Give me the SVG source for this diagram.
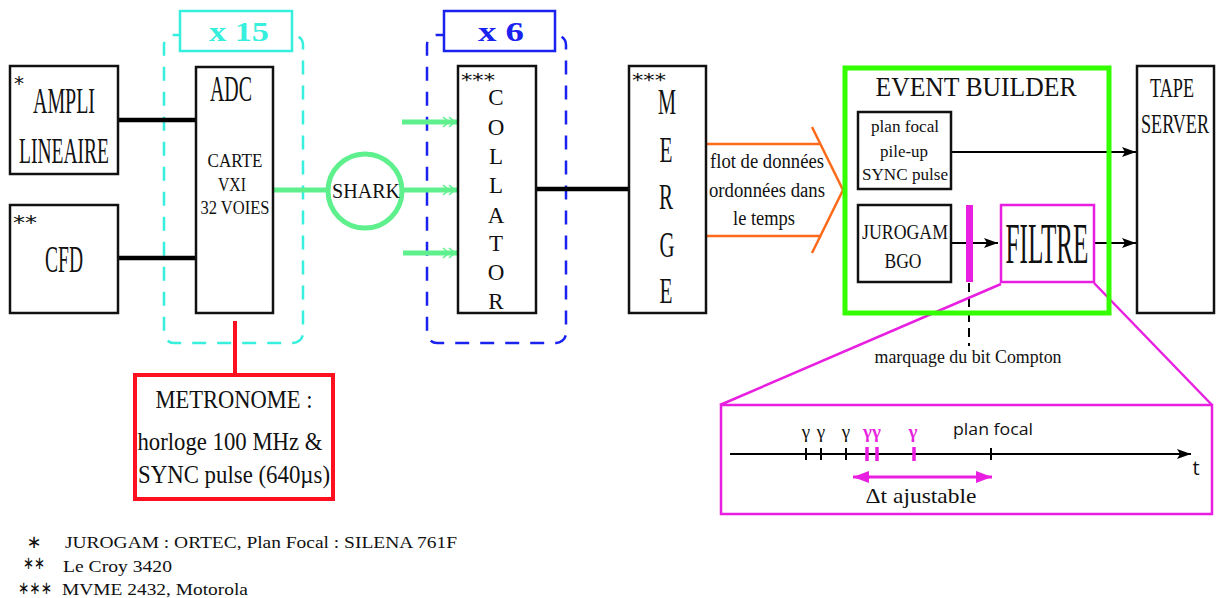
<svg xmlns="http://www.w3.org/2000/svg" width="1219" height="598" viewBox="0 0 1219 598">
  <style>
    .box { fill: #fff; stroke: #111; stroke-width: 2.5; }
    .t { font-family: "Liberation Serif", "DejaVu Serif", serif; fill: #111; }
    .s { font-family: "Open Sans", "Liberation Sans", sans-serif; fill: #111; }
    .ast { font-family: "DejaVu Sans", sans-serif; fill: #111; }
    .mid { text-anchor: middle; }
    .thick { stroke: #000; stroke-width: 4.5; fill: none; }
    .green { stroke: #5ff08e; stroke-width: 5; fill: none; }
    .mag { stroke: #e81ee0; fill: none; }
  </style>
  <defs>
    <marker id="dbl" viewBox="0 0 16 12" refX="16" refY="6" markerWidth="16" markerHeight="12" markerUnits="userSpaceOnUse" orient="auto">
      <path d="M2,1 L8,6 L2,11 M8,1 L14,6 L8,11" fill="none" stroke="#5ff08e" stroke-width="1.6"/>
    </marker>
    <marker id="blk" viewBox="0 0 14 10" refX="14" refY="5" markerWidth="14" markerHeight="10" markerUnits="userSpaceOnUse" orient="auto">
      <path d="M0,0 L14,5 L0,10 L3,5 Z" fill="#000"/>
    </marker>
    <marker id="magA" viewBox="0 0 16 12" refX="16" refY="6" markerWidth="16" markerHeight="12" markerUnits="userSpaceOnUse" orient="auto-start-reverse">
      <path d="M0,0 L16,6 L0,12 Z" fill="#e81ee0"/>
    </marker>
  </defs>

  <!-- replication frames -->
  <g id="frame-adc">
    <rect x="164" y="35" width="139" height="308" rx="10" fill="none" stroke="#36efdc" stroke-width="2.5" stroke-dasharray="14,11"/>
    <rect x="180" y="11" width="112" height="40" fill="#fff" stroke="#36efdc" stroke-width="2.5"/>
    <text x="239" y="41" class="mid" font-family="Liberation Serif, serif" font-weight="bold" font-size="28" fill="#36efdc" textLength="60" lengthAdjust="spacingAndGlyphs">x 15</text>
  </g>
  <g id="frame-collator">
    <rect x="427" y="35" width="139" height="308" rx="10" fill="none" stroke="#1a22f0" stroke-width="2.5" stroke-dasharray="14,11"/>
    <rect x="444" y="11" width="111" height="40" fill="#fff" stroke="#1a22f0" stroke-width="2.5"/>
    <text x="501" y="41" class="mid" font-family="Liberation Serif, serif" font-weight="bold" font-size="28" fill="#1a22f0" textLength="46" lengthAdjust="spacingAndGlyphs">x 6</text>
  </g>

  <!-- connectors -->
  <g id="connectors">
    <line x1="118" y1="120" x2="205" y2="120" class="thick"/>
    <line x1="118" y1="258" x2="205" y2="258" class="thick"/>
    <line x1="273" y1="190" x2="327" y2="190" class="green"/>
    <line x1="403" y1="190" x2="457" y2="190" class="green" marker-end="url(#dbl)"/>
    <line x1="402" y1="122" x2="457" y2="122" class="green" marker-end="url(#dbl)"/>
    <line x1="403" y1="253" x2="457" y2="253" class="green" marker-end="url(#dbl)"/>
    <line x1="536" y1="189" x2="629" y2="189" class="thick"/>
    <rect x="232.5" y="296" width="4" height="9" fill="#ff1020"/>
    <line x1="235" y1="321" x2="235" y2="374" stroke="#ff1020" stroke-width="4"/>
    <!-- ordered data stream -->
    <g stroke="#ff6a1a" stroke-width="2.5" fill="none">
      <line x1="706" y1="144" x2="820" y2="144"/>
      <line x1="706" y1="236" x2="820" y2="236"/>
      <polyline points="812,127 843,190 812,253"/>
    </g>
    <line x1="951" y1="152" x2="1136" y2="152" stroke="#000" stroke-width="2" marker-end="url(#blk)"/>
    <line x1="951" y1="243" x2="998" y2="243" stroke="#000" stroke-width="2" marker-end="url(#blk)"/>
    <line x1="1094" y1="243" x2="1136" y2="243" stroke="#000" stroke-width="2" marker-end="url(#blk)"/>
    <line x1="969" y1="283" x2="969" y2="346" stroke="#000" stroke-width="2" stroke-dasharray="9,6"/>
    <line x1="1001" y1="284" x2="720" y2="405" class="mag" stroke-width="2.5"/>
    <line x1="1094" y1="283" x2="1212" y2="405" class="mag" stroke-width="2.5"/>
  </g>

  <g id="ampli">
    <rect x="10" y="66" width="108" height="108" class="box"/>
    <text x="14" y="90" class="ast" font-size="20">*</text>
    <text x="64" y="113" class="t mid" font-size="36" textLength="62" lengthAdjust="spacingAndGlyphs">AMPLI</text>
    <text x="64" y="163" class="t mid" font-size="36" textLength="90" lengthAdjust="spacingAndGlyphs">LINEAIRE</text>
  </g>
  <g id="cfd">
    <rect x="10" y="205" width="108" height="108" class="box"/>
    <text x="13" y="229" class="ast" font-size="20" textLength="24" lengthAdjust="spacingAndGlyphs">**</text>
    <text x="64" y="272" class="t mid" font-size="38" textLength="38" lengthAdjust="spacingAndGlyphs">CFD</text>
  </g>
  <g id="adc">
    <rect x="196" y="67" width="77" height="246" class="box"/>
    <text x="231" y="101" class="t mid" font-size="36" textLength="42" lengthAdjust="spacingAndGlyphs">ADC</text>
    <text x="235" y="167" class="t mid" font-size="18" textLength="55" lengthAdjust="spacingAndGlyphs">CARTE</text>
    <text x="232" y="191" class="t mid" font-size="18" textLength="28" lengthAdjust="spacingAndGlyphs">VXI</text>
    <text x="235" y="214" class="t mid" font-size="18" textLength="69" lengthAdjust="spacingAndGlyphs">32 VOIES</text>
  </g>
  <g id="metronome">
    <rect x="135" y="375" width="198" height="124" fill="#fff" stroke="#ff1020" stroke-width="4"/>
    <text x="234" y="408" class="t mid" font-size="26" textLength="157" lengthAdjust="spacingAndGlyphs">METRONOME :</text>
    <text x="230" y="450" class="t mid" font-size="26" textLength="185" lengthAdjust="spacingAndGlyphs">horloge 100 MHz &amp;</text>
    <text x="234" y="483" class="t mid" font-size="26" textLength="192" lengthAdjust="spacingAndGlyphs">SYNC pulse (640µs)</text>
  </g>
  <g id="shark">
    <circle cx="365" cy="191" r="37" fill="#fff" stroke="#5ff08e" stroke-width="5"/>
    <text x="366" y="198" class="t mid" font-size="20" textLength="68" lengthAdjust="spacingAndGlyphs">SHARK</text>
  </g>
  <g id="collator">
    <rect x="458" y="66" width="78" height="247" class="box"/>
    <text x="461" y="86" class="ast" font-size="17" textLength="34" lengthAdjust="spacingAndGlyphs">***</text>
    <g class="t mid" font-size="23">
      <text x="496" y="105">C</text>
      <text x="496" y="135">O</text>
      <text x="496" y="164">L</text>
      <text x="496" y="193">L</text>
      <text x="496" y="223">A</text>
      <text x="496" y="251">T</text>
      <text x="496" y="280">O</text>
      <text x="496" y="309">R</text>
    </g>
  </g>
  <g id="merge">
    <rect x="629" y="66" width="77" height="247" class="box"/>
    <text x="632" y="86" class="ast" font-size="17" textLength="34" lengthAdjust="spacingAndGlyphs">***</text>
    <g class="t mid" font-size="36">
      <text x="667" y="114" textLength="18" lengthAdjust="spacingAndGlyphs">M</text>
      <text x="666" y="162" textLength="13" lengthAdjust="spacingAndGlyphs">E</text>
      <text x="666" y="209" textLength="14" lengthAdjust="spacingAndGlyphs">R</text>
      <text x="667" y="257" textLength="15" lengthAdjust="spacingAndGlyphs">G</text>
      <text x="666" y="303" textLength="13" lengthAdjust="spacingAndGlyphs">E</text>
    </g>
  </g>
  <g id="stream-label">
    <text x="767" y="168" class="t mid" font-size="20" textLength="114" lengthAdjust="spacingAndGlyphs">flot de données</text>
    <text x="767" y="197" class="t mid" font-size="20" textLength="116" lengthAdjust="spacingAndGlyphs">ordonnées dans</text>
    <text x="764" y="225" class="t mid" font-size="20" textLength="62" lengthAdjust="spacingAndGlyphs">le temps</text>
  </g>
  <g id="event-builder">
    <rect x="845" y="68" width="264" height="245" fill="none" stroke="#33ff00" stroke-width="5"/>
    <text x="976" y="96" class="t mid" font-size="27" textLength="201" lengthAdjust="spacingAndGlyphs">EVENT BUILDER</text>
  </g>
  <g id="plan-focal">
    <rect x="858" y="112" width="93" height="77" class="box"/>
    <text x="905" y="132" class="t mid" font-size="17" textLength="68" lengthAdjust="spacingAndGlyphs">plan focal</text>
    <text x="904" y="157" class="t mid" font-size="17" textLength="48" lengthAdjust="spacingAndGlyphs">pile-up</text>
    <text x="905" y="180" class="t mid" font-size="17" textLength="86" lengthAdjust="spacingAndGlyphs">SYNC pulse</text>
  </g>
  <g id="jurogam">
    <rect x="858" y="205" width="93" height="77" class="box"/>
    <text x="905" y="239" class="t mid" font-size="21" textLength="86" lengthAdjust="spacingAndGlyphs">JUROGAM</text>
    <text x="903" y="268" class="t mid" font-size="21" textLength="37" lengthAdjust="spacingAndGlyphs">BGO</text>
    <rect x="966" y="205" width="7" height="77" fill="#e81ee0"/>
  </g>
  <g id="filtre">
    <rect x="1001" y="205" width="93" height="77" fill="#fff" stroke="#e81ee0" stroke-width="2.5"/>
    <text x="1047" y="263" class="t mid" font-size="56" textLength="83" lengthAdjust="spacingAndGlyphs">FILTRE</text>
  </g>
  <g id="tape-server">
    <rect x="1137" y="66" width="77" height="247" class="box"/>
    <text x="1172" y="97" class="t mid" font-size="28" textLength="44" lengthAdjust="spacingAndGlyphs">TAPE</text>
    <text x="1175" y="133" class="t mid" font-size="28" textLength="68" lengthAdjust="spacingAndGlyphs">SERVER</text>
  </g>
  <g id="compton-label">
    <text x="968" y="363" class="t mid" font-size="19" textLength="187" lengthAdjust="spacingAndGlyphs">marquage du bit Compton</text>
  </g>

  <!-- filter time window -->
  <g id="filtre-detail">
    <rect x="721" y="405" width="491" height="109" fill="#fff" stroke="#e81ee0" stroke-width="2.5"/>
    <line x1="730" y1="454" x2="1191" y2="454" stroke="#000" stroke-width="2" marker-end="url(#blk)"/>
    <g stroke="#000" stroke-width="2">
      <line x1="806" y1="448" x2="806" y2="460"/>
      <line x1="821" y1="448" x2="821" y2="460"/>
      <line x1="846" y1="448" x2="846" y2="460"/>
      <line x1="991" y1="448" x2="991" y2="460"/>
    </g>
    <g stroke="#e81ee0" stroke-width="3.5">
      <line x1="867" y1="447" x2="867" y2="461"/>
      <line x1="877" y1="447" x2="877" y2="461"/>
      <line x1="914" y1="447" x2="914" y2="461"/>
    </g>
    <g class="t mid" font-size="19">
      <text x="806" y="438">γ</text>
      <text x="821" y="438">γ</text>
      <text x="846" y="438">γ</text>
    </g>
    <g class="t mid" font-size="19" font-weight="bold" style="fill:#e81ee0">
      <text x="872" y="438">γγ</text>
      <text x="913" y="438">γ</text>
    </g>
    <text x="993" y="435" class="s mid" font-size="17" textLength="80" lengthAdjust="spacingAndGlyphs">plan focal</text>
    <text x="1196" y="475" class="s mid" font-size="20">t</text>
    <line x1="853" y1="477" x2="992" y2="477" stroke="#e81ee0" stroke-width="3" marker-start="url(#magA)" marker-end="url(#magA)"/>
    <text x="921" y="503" class="t mid" font-size="22" textLength="111" lengthAdjust="spacingAndGlyphs">Δt ajustable</text>
  </g>

  <!-- footnotes -->
  <g id="footnotes">
    <text x="34" y="548" class="ast mid" font-size="18">∗</text>
    <text x="65" y="548" class="t" font-size="17" textLength="392" lengthAdjust="spacingAndGlyphs">JUROGAM : ORTEC, Plan Focal : SILENA 761F</text>
    <text x="34" y="569" class="ast mid" font-size="18" textLength="22" lengthAdjust="spacingAndGlyphs">∗∗</text>
    <text x="63" y="572" class="t" font-size="17" textLength="109" lengthAdjust="spacingAndGlyphs">Le Croy 3420</text>
    <text x="35" y="594" class="ast mid" font-size="18" textLength="34" lengthAdjust="spacingAndGlyphs">∗∗∗</text>
    <text x="62" y="595" class="t" font-size="17" textLength="186" lengthAdjust="spacingAndGlyphs">MVME 2432, Motorola</text>
  </g>
</svg>
